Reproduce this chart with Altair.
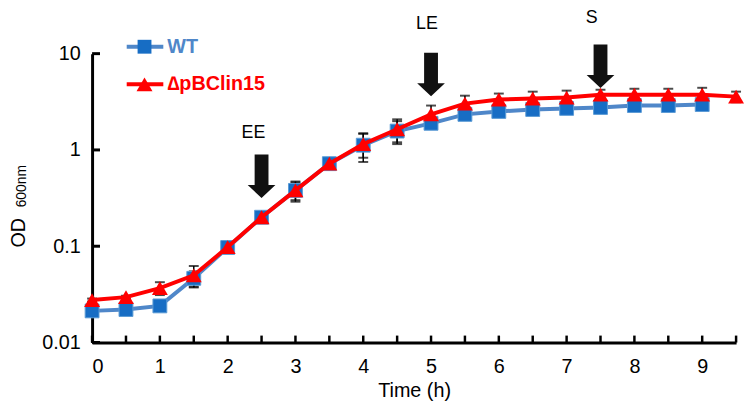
import altair as alt
import pandas as pd

# ---- data ----
time_wt = [0, 0.5, 1, 1.5, 2, 2.5, 3, 3.5, 4, 4.5, 5, 5.5, 6, 6.5, 7, 7.5, 8, 8.5, 9]
od_wt = [0.0213, 0.0220, 0.0240, 0.0464, 0.097, 0.200, 0.38, 0.72, 1.12, 1.57,
         1.89, 2.34, 2.51, 2.63, 2.70, 2.76, 2.89, 2.89, 2.96]
err_wt = [0.0005, 0.0005, 0.001, 0.0084, 0.005, 0.01, 0.09, 0.05, 0.37, 0.42,
          0.2, 0.15, 0.15, 0.15, 0.15, 0.15, 0.15, 0.15, 0.15]

time_mut = [0, 0.5, 1, 1.5, 2, 2.5, 3, 3.5, 4, 4.5, 5, 5.5, 6, 6.5, 7, 7.5, 8, 8.5, 9, 9.5]
od_mut = [0.0276, 0.0296, 0.0367, 0.0498, 0.098, 0.200, 0.38, 0.72, 1.15, 1.64,
          2.34, 3.03, 3.34, 3.42, 3.50, 3.75, 3.75, 3.75, 3.75, 3.58]
err_mut = [0.001, 0.001, 0.0056, 0.0125, 0.007, 0.02, 0.079, 0.07, 0.32, 0.44,
           0.55, 0.63, 0.51, 0.61, 0.63, 0.47, 0.57, 0.57, 0.67, 0.45]

phase_time = [2.5, 5, 7.5]
phase_tip = [0.317, 3.62, 4.41]
phase_label = ["EE", "LE", "S"]
phase_label_x = [2.38, 4.94, 7.37]
phase_label_y = [1.51, 20.5, 23.5]

x_ticks = [0, 0.5, 1, 1.5, 2, 2.5, 3, 3.5, 4, 4.5, 5, 5.5, 6, 6.5, 7, 7.5, 8, 8.5, 9, 9.5]
x_labels = [0, 1, 2, 3, 4, 5, 6, 7, 8, 9]
y_ticks = [0.01, 0.1, 1, 10]

BLUE_LINE = "#4f87c9"
BLUE_MARK = "#176dc4"
RED = "#ff0000"
FONT = "Liberation Sans"

wt = pd.DataFrame({"t": time_wt, "v": od_wt,
                   "lo": [v - e for v, e in zip(od_wt, err_wt)],
                   "hi": [v + e for v, e in zip(od_wt, err_wt)]})
mut = pd.DataFrame({"t": time_mut, "v": od_mut,
                    "lo": [v - e for v, e in zip(od_mut, err_mut)],
                    "hi": [v + e for v, e in zip(od_mut, err_mut)]})
phase = pd.DataFrame({"t": phase_time, "tip": phase_tip, "label": phase_label,
                      "lx": phase_label_x, "ly": phase_label_y})
one = pd.DataFrame({"a": [0]})

xs = alt.Scale(domain=[0, 9.5], nice=False, zero=False)
ys = alt.Scale(type="log", domain=[0.01, 10], nice=False)

x_axis = alt.Axis(values=x_labels, format="d", ticks=False, labelPadding=14,
                  title="Time (h)", titlePadding=5, grid=False)
y_axis = alt.Axis(values=y_ticks, format="~g", ticks=False, labelPadding=12,
                  title="", grid=False)


def X(f):
    return alt.X(f, type="quantitative", scale=xs, axis=x_axis)


def Y(f):
    return alt.Y(f, type="quantitative", scale=ys, axis=y_axis)


layers = []

# error bars
for df in (wt, mut):
    layers.append(alt.Chart(df).mark_rule(color="black", strokeWidth=1.5).encode(
        x=X("t"), y=Y("lo"), y2="hi"))
    for f in ("lo", "hi"):
        layers.append(alt.Chart(df).mark_tick(color="black", orient="horizontal",
                                              size=10, thickness=2).encode(
            x=X("t"), y=Y(f)))

# WT
layers.append(alt.Chart(wt).mark_line(color=BLUE_LINE, strokeWidth=4).encode(
    x=X("t"), y=Y("v")))
layers.append(alt.Chart(wt).mark_point(shape="square", filled=True, size=196,
                                       color=BLUE_MARK, opacity=1,
                                       stroke="#5b9bd5", strokeWidth=1).encode(
    x=X("t"), y=Y("v")))
# mutant
layers.append(alt.Chart(mut).mark_line(color=RED, strokeWidth=4).encode(
    x=X("t"), y=Y("v")))
layers.append(alt.Chart(mut).mark_point(shape="triangle-up", filled=True, size=260,
                                        color=RED, opacity=1).encode(
    x=X("t"), y=Y("v")))

# inward ticks
yt = pd.DataFrame({"v": y_ticks})
layers.append(alt.Chart(yt).mark_rule(color="black", strokeWidth=3).encode(
    y=Y("v"), x=alt.value(0), x2=alt.value(8)))
xt = pd.DataFrame({"t": x_ticks})
layers.append(alt.Chart(xt).mark_rule(color="black", strokeWidth=2.5).encode(
    x=X("t"), y=alt.value(292), y2=alt.value(285)))

# growth-phase arrows
arrow = "M-0.5,-3.14L0.5,-3.14L0.5,-0.93L1,-0.93L0,0L-1,-0.93L-0.5,-0.93Z"
layers.append(alt.Chart(phase).mark_point(shape=arrow, size=784, filled=True,
                                          color="#111111", opacity=1).encode(
    x=X("t"), y=Y("tip")))
layers.append(alt.Chart(phase).mark_text(fontSize=18, font=FONT, color="black",
                                         baseline="middle").encode(
    x=X("lx"), y=Y("ly"), text="label:N"))

# y-axis title  OD 600nm
layers.append(alt.Chart(one).mark_text(text="OD", fontSize=20, font=FONT, angle=270,
                                       color="black", baseline="middle").encode(
    x=alt.value(-74), y=alt.value(181)))
layers.append(alt.Chart(one).mark_text(text="600nm", fontSize=14, font=FONT, angle=270,
                                       color="black", baseline="middle").encode(
    x=alt.value(-71), y=alt.value(134)))

# legend
for yy, line_col, mk_col, shape, size, label, txt_col in (
        (-7, BLUE_LINE, BLUE_MARK, "square", 196, "WT", BLUE_LINE),
        (31, RED, RED, "triangle-up", 260, "\u2206pBClin15", RED)):
    layers.append(alt.Chart(one).mark_rule(color=line_col, strokeWidth=4).encode(
        x=alt.value(35), x2=alt.value(72), y=alt.value(yy)))
    layers.append(alt.Chart(one).mark_point(shape=shape, size=size, filled=True,
                                            color=mk_col, opacity=1).encode(
        x=alt.value(53), y=alt.value(yy)))
    layers.append(alt.Chart(one).mark_text(text=label, fontSize=20, fontWeight="bold",
                                           font=FONT, color=txt_col,
                                           align="left", baseline="middle").encode(
        x=alt.value(76), y=alt.value(yy)))

chart = alt.layer(*layers).properties(
    width=651, height=292,
    autosize=alt.AutoSizeParams(type="none"),
    padding={"left": 85, "top": 44, "right": 8, "bottom": 59},
).configure_view(stroke=None).configure_axis(
    domainColor="black", domainWidth=3, labelFont=FONT, labelFontSize=20,
    labelColor="black", titleFont=FONT, titleFontSize=20, titleFontWeight="normal",
    titleColor="black",
)

chart.save("out.html", embed_options={"renderer": "svg", "actions": False})
